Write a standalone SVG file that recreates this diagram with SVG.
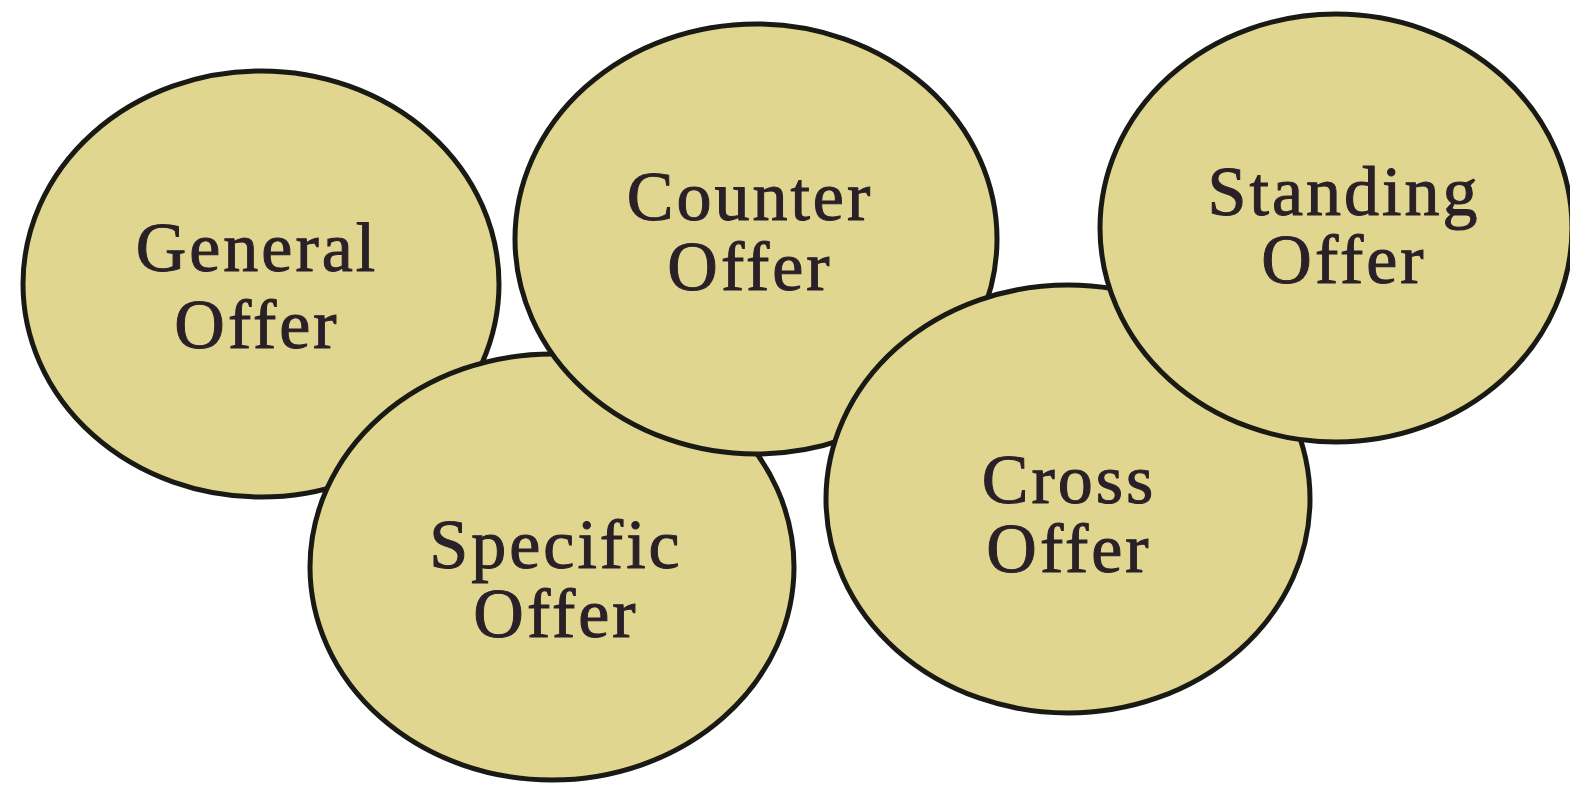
<svg xmlns="http://www.w3.org/2000/svg" width="1570" height="786" viewBox="0 0 1570 786">
<style>
.c{fill:#E1D690;stroke:#1a1a14;stroke-width:5}
.t{font-family:"Liberation Serif","DejaVu Serif",serif;font-size:70px;fill:#2a2028;stroke:#2a2028;stroke-width:1;text-anchor:middle;letter-spacing:3px}
</style>
<rect width="1570" height="786" fill="#ffffff"/>
<g id="connectors"></g>
<g id="general-offer">
<ellipse class="c" cx="261" cy="284" rx="238" ry="213"/>
<text class="t" x="257" y="271">General</text>
<text class="t" x="257" y="348">Offer</text>
</g>
<g id="specific-offer">
<ellipse class="c" cx="552" cy="567" rx="242" ry="213"/>
<text class="t" x="556" y="568">Specific</text>
<text class="t" x="556" y="637">Offer</text>
</g>
<g id="counter-offer">
<ellipse class="c" cx="756" cy="239" rx="241" ry="215"/>
<text class="t" x="750" y="220">Counter</text>
<text class="t" x="750" y="290">Offer</text>
</g>
<g id="cross-offer">
<ellipse class="c" cx="1068" cy="499" rx="242" ry="214"/>
<text class="t" x="1069" y="503">Cross</text>
<text class="t" x="1069" y="572">Offer</text>
</g>
<g id="standing-offer">
<ellipse class="c" cx="1336" cy="228" rx="236" ry="214"/>
<text class="t" x="1344" y="215">Standing</text>
<text class="t" x="1344" y="283">Offer</text>
</g>
</svg>
